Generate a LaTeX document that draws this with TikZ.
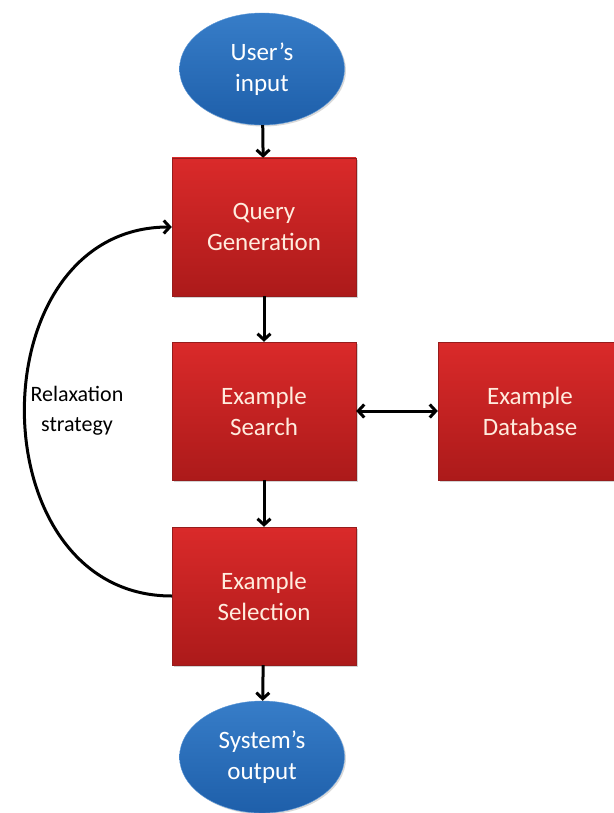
\documentclass[tikz,border=0pt]{standalone}
\usepackage{fontspec}
\setmainfont{Carlito}
\usetikzlibrary{arrows.meta,shapes.geometric,shadows}
\definecolor{StageTop}{RGB}{218,42,42}
\definecolor{StageBottom}{RGB}{172,26,26}
\definecolor{StageEdge}{RGB}{150,28,28}
\definecolor{StageText}{RGB}{255,236,222}
\definecolor{TermTop}{RGB}{55,125,200}
\definecolor{TermBottom}{RGB}{30,95,170}
\definecolor{TermEdge}{RGB}{90,150,215}
\tikzset{
  stage/.style={rectangle,draw=StageEdge,thin,top color=StageTop,bottom color=StageBottom,
    minimum width=184pt,minimum height=138pt,inner sep=0pt,text=StageText,align=center,
    font=\fontsize{25}{31}\selectfont,
    drop shadow={shadow xshift=2pt,shadow yshift=-2pt,opacity=0.35}},
  terminal/.style={ellipse,draw=TermEdge,thin,top color=TermTop,bottom color=TermBottom,
    minimum width=165pt,minimum height=112pt,inner sep=0pt,text=white,align=center,
    font=\fontsize{25}{31}\selectfont,
    drop shadow={shadow xshift=1.5pt,shadow yshift=-1.5pt,opacity=0.3}},
  arrow/.style={-{Straight Barb[length=6pt,width=13pt]},line width=3pt,black},
  twoway/.style={{Straight Barb[length=6pt,width=13pt]}-{Straight Barb[length=6pt,width=13pt]},
    line width=3pt,black}
}
\begin{document}
\begin{tikzpicture}[x=1pt,y=-1pt]
  \useasboundingbox (0,0) rectangle (613,813);
  % flow
  \node[terminal] (input) at (262,69) {User's\\input};
  \node[stage] (qry) at (264,227) {Query\\Generation};
  \node[stage] (search) at (264,411) {Example\\Search};
  \node[stage] (dbase) at (530,411) {Example\\Database};
  \node[stage] (select) at (264,596) {Example\\Selection};
  \node[terminal] (output) at (262,757) {System's\\output};
  \draw[arrow] (input) -- (qry);
  \draw[arrow] (qry) -- (search);
  \draw[arrow] (search) -- (select);
  \draw[arrow] (select) -- (output);
  \draw[twoway] (search) -- (dbase);
  % feedback loop
  \draw[arrow] (select.west) .. controls +(-196,0) and +(-196,0) .. (qry.west);
  \node[align=center,font=\fontsize{22}{30}\selectfont] (relax) at (77,411) {Relaxation\\strategy};
\end{tikzpicture}
\end{document}
